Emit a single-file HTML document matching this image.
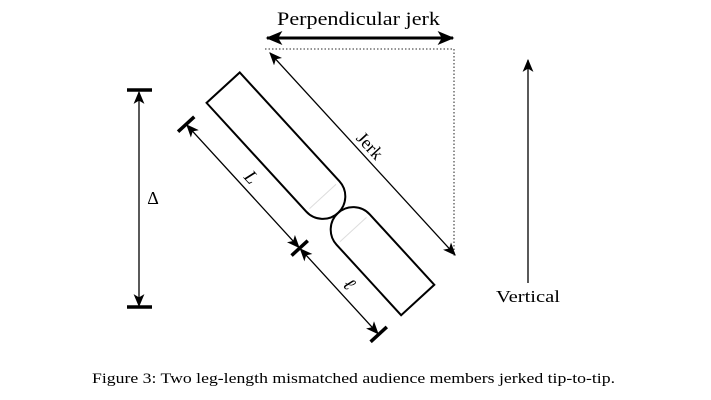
<!DOCTYPE html>
<html><head><style>
html,body{margin:0;padding:0;background:#fff;}
svg{display:block;}
text{font-family:"Liberation Serif",serif;fill:#000;}
</style></head><body>
<svg width="711" height="400" viewBox="0 0 711 400" xmlns="http://www.w3.org/2000/svg">
<defs>
<marker id="ah" viewBox="0 0 12 10" refX="11" refY="5" markerWidth="13" markerHeight="11" markerUnits="userSpaceOnUse" orient="auto-start-reverse">
<path d="M0,0 L12,5 L0,10 L3,5 Z" fill="#000"/>
</marker>
<marker id="ahb" viewBox="0 0 12 10" refX="11" refY="5" markerWidth="17" markerHeight="14" markerUnits="userSpaceOnUse" orient="auto-start-reverse">
<path d="M0,0 L12,5 L0,10 L3,5 Z" fill="#000"/>
</marker>
</defs>

<text x="277" y="25" font-size="19" textLength="163" lengthAdjust="spacingAndGlyphs">Perpendicular jerk</text>
<line x1="267" y1="38" x2="453" y2="38" stroke="#000" stroke-width="3" marker-start="url(#ahb)" marker-end="url(#ahb)"/>
<path d="M265,49 L454,49 L454,256" fill="none" stroke="#555" stroke-width="1.3" stroke-dasharray="1.5,2"/>

<line x1="139" y1="92" x2="139" y2="306" stroke="#000" stroke-width="1.3" marker-start="url(#ah)" marker-end="url(#ah)"/>
<line x1="127" y1="90" x2="152" y2="90" stroke="#000" stroke-width="3.5"/>
<line x1="127" y1="307" x2="152" y2="307" stroke="#000" stroke-width="3.5"/>
<text x="153" y="204" font-size="18" text-anchor="middle">Δ</text>

<line x1="528" y1="283" x2="528" y2="60" stroke="#000" stroke-width="1.3" marker-end="url(#ah)"/>
<text x="496" y="302" font-size="17" textLength="64" lengthAdjust="spacingAndGlyphs">Vertical</text>

<g transform="translate(338,213) rotate(47.5)">
  <path d="M-22.5,-22.5 L-170,-22.5 L-170,22.5 L-22.5,22.5 A22.5,22.5 0 0 0 -22.5,-22.5" fill="none" stroke="#000" stroke-width="2"/>
  <path d="M22.5,-22.5 L118,-22.5 L118,22.5 L22.5,22.5 A22.5,22.5 0 0 1 22.5,-22.5" fill="none" stroke="#000" stroke-width="2"/>
  <line x1="-22.5" y1="-18" x2="-22.5" y2="18" stroke="#ddd" stroke-width="1"/>
  <line x1="22.5" y1="-18" x2="22.5" y2="18" stroke="#ddd" stroke-width="1"/>
  <line x1="-164" y1="-58" x2="110" y2="-58" stroke="#000" stroke-width="1.3" marker-start="url(#ah)" marker-end="url(#ah)"/>
  <text x="-28" y="-63" font-size="18" text-anchor="middle">Jerk</text>
  <line x1="-167" y1="52" x2="-1" y2="52" stroke="#000" stroke-width="1.3" marker-start="url(#ah)" marker-end="url(#ah)"/>
  <line x1="1" y1="52" x2="116" y2="52" stroke="#000" stroke-width="1.3" marker-start="url(#ah)" marker-end="url(#ah)"/>
  <line x1="-168" y1="41" x2="-168" y2="63" stroke="#000" stroke-width="3.5"/>
  <line x1="0" y1="41" x2="0" y2="63" stroke="#000" stroke-width="3.5"/>
  <line x1="117" y1="41" x2="117" y2="63" stroke="#000" stroke-width="3.5"/>
  <text x="-85" y="46" font-size="19" font-style="italic" text-anchor="middle">L</text>
  <text x="60" y="46" font-size="19" font-style="italic" text-anchor="middle">ℓ</text>
</g>

<text x="92" y="383" font-size="15" textLength="523" lengthAdjust="spacingAndGlyphs">Figure 3: Two leg-length mismatched audience members jerked tip-to-tip.</text>
</svg>
</body></html>
